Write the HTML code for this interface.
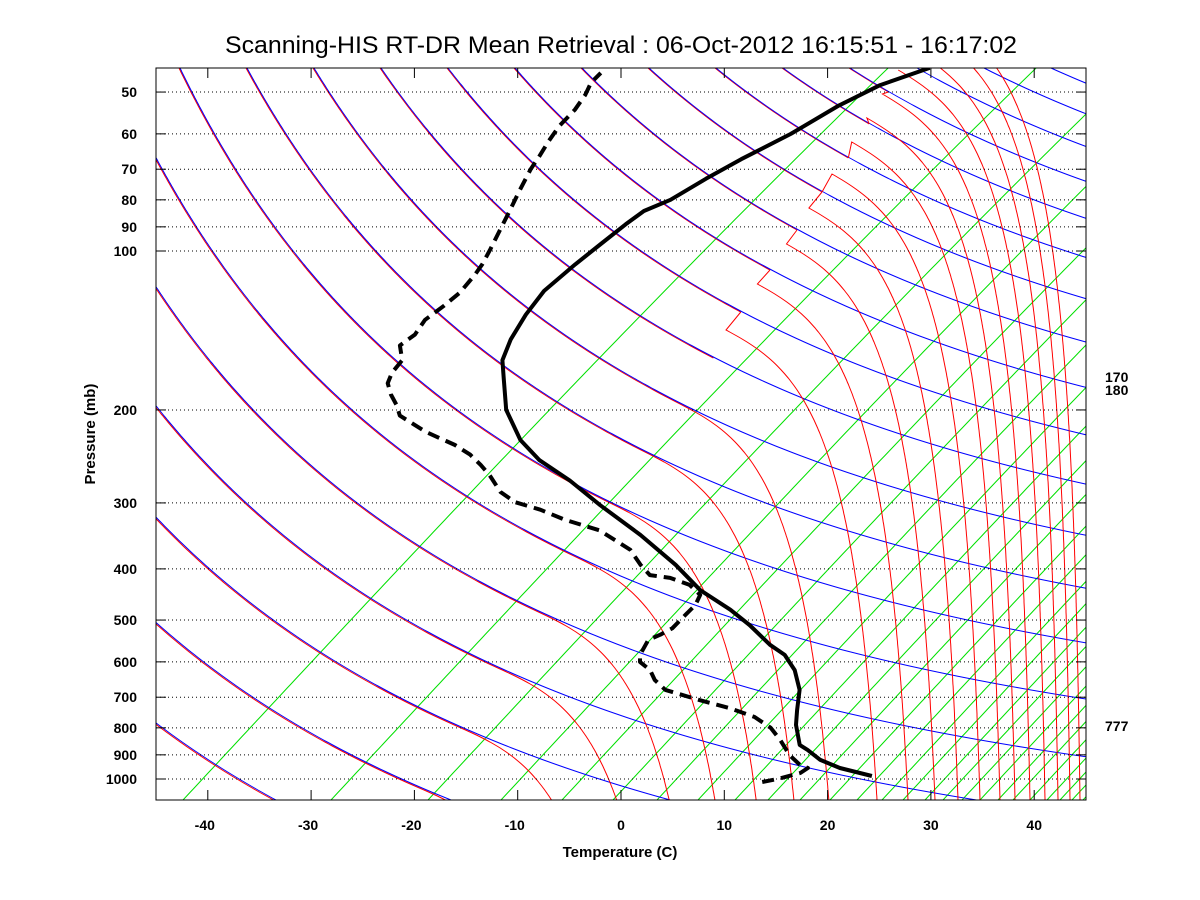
<!DOCTYPE html>
<html><head><meta charset="utf-8"><style>
html,body{margin:0;padding:0;background:#fff;}
svg{display:block;font-family:"Liberation Sans",sans-serif;}
.tk{font-size:14px;font-weight:bold;fill:#000;}
</style></head><body>
<svg id="chart" width="1200" height="900" viewBox="0 0 1200 900" xmlns="http://www.w3.org/2000/svg">
<rect x="0" y="0" width="1200" height="900" fill="#fff"/>
<text x="225" y="53" textLength="792" lengthAdjust="spacingAndGlyphs" font-size="24" fill="#000">Scanning-HIS RT-DR Mean Retrieval : 06-Oct-2012 16:15:51 - 16:17:02</text>
<text x="620" y="857" text-anchor="middle" font-size="15" font-weight="bold">Temperature (C)</text>
<text transform="translate(95,434) rotate(-90)" text-anchor="middle" font-size="15" font-weight="bold">Pressure (mb)</text>
<defs><clipPath id="pc"><rect x="156" y="68" width="930" height="732"/></clipPath></defs>
<g id="bg" clip-path="url(#pc)"></g>
<g id="grid"></g>
<g id="data" clip-path="url(#pc)"></g>
<rect x="156" y="68" width="930" height="732" fill="none" stroke="#000" stroke-width="1"/>
<g id="axes"></g>
<text class="tk" x="1105" y="382">170</text>
<text class="tk" x="1105" y="395">180</text>
<text class="tk" x="1105" y="731">777</text>
</svg>
<script>
// ---- data ----
const tempP = [987,953,920,881,862,790,740,678,622,582,557,511,478,439,393,345,303,272,249,228,200,175,161,147,132,119,106,97,89,84,80,73,67,60,53,48.5,45];
const tempT = [22.2,18.4,15.8,13.7,12.5,10.4,9.2,7.7,5.5,3.2,0.9,-2.8,-6.0,-10.6,-15.2,-21.2,-27.7,-32.8,-37.5,-41.1,-45.1,-48.0,-49.8,-50.8,-51.5,-51.8,-51.1,-50.4,-49.7,-49.1,-47.5,-45.9,-44.2,-41.6,-39.4,-37.2,-33.9];
const dewP = [1013,998,974,953,941,901,844,800,763,734,709,678,649,622,600,582,545,533,518,489,468,448,429,416,411,393,368,338,323,309,299,286,266,254,243,233,220,205,196,187,178,170,161,151,144,135,127,120,111,106,99.6,91,84,77,70,66,62,58,54,50.6,48,46];
const dewT = [12.1,13.5,15.0,15.3,14.3,12.4,10.2,8.2,5.7,2.5,-1.1,-5.3,-7.2,-8.5,-10.2,-10.8,-11.3,-10.6,-10.0,-9.9,-9.8,-10.2,-12.1,-14.6,-16.8,-18.6,-20.9,-25.6,-29.8,-33.1,-36.2,-38.5,-41.0,-42.8,-44.7,-47.0,-51.0,-54.9,-56.1,-57.6,-58.9,-59.4,-59.5,-61.0,-60.5,-60.8,-60.2,-59.8,-59.9,-60.1,-60.6,-61.4,-62.1,-62.9,-63.7,-64.0,-64.4,-64.7,-64.6,-64.9,-65.4,-65.3];
const xTicks = [-40,-30,-20,-10,0,10,20,30,40];
const yTicks = [50,60,70,80,90,100,200,300,400,500,600,700,800,900,1000];

const NS="http://www.w3.org/2000/svg";
const PL=156,PR=1086,PT=68,PB=800;
function yP(p){return 779+528*Math.log10(p/1000);}
function xT(T,y){return 621+10.33*T+0.9*(PB-y);}
function mk(tag,parent){const e=document.createElementNS(NS,tag);parent.appendChild(e);return e;}
const bg=document.getElementById('bg'), grid=document.getElementById('grid'), dataG=document.getElementById('data'), axes=document.getElementById('axes');

function sBlue(x,y){return Math.exp(0.404+0.00175*(x-PL)-0.0016*(PB-y));}
function hMoist(x,y){const d=Math.max(0,0.012*(x-PL)+0.008*(y-PT)-8.8);return 1/(1+d*d);}
function sRed(x,y){const h=hMoist(x,y);return sBlue(x,y)*h-0.1*(1-h);}
function pathDown(x,y,f){let pts=[[x,y]];for(let i=0;i<800&&y<PB+2&&x<PR+40;i++){x+=f(x,y)*2;y+=2;pts.push([x,y]);}return pts;}
function pathUp(x,y,f,stop){let pts=[[x,y]];for(let i=0;i<1500&&y>PT-2&&x>PL-40;i++){if(stop&&stop(x,y))break;x-=f(x,y)*2;y-=2;pts.push([x,y]);}return pts;}
function pl(pts,color,parent,name){const e=mk('polyline',parent);e.setAttribute('points',pts.map(p=>p[0].toFixed(1)+','+p[1].toFixed(1)).join(' '));e.setAttribute('fill','none');e.setAttribute('stroke',color);e.setAttribute('stroke-width','1');


return e;}

const greenBottom=[183,331,428,501,562,613,657,698,735,768,800,830,857,882,903,925,943,962,980,998,1013,1030,1047,1060,1072,1083];
greenBottom.forEach(xb=>{const pts=[];for(let y=PB;y>=PT;y-=4){const u=PB-y;pts.push([xb+0.93*u+0.1*u*u*u/(3*732*732),y]);}pl(pts,'#00e000',bg,'mixing-ratio-line');});
let maxBottom=0;
const cutEnds=[];
for(let k=-10;k<=13;k++){const x0=179+67*k;
 const rp=pathDown(x0,PT,sRed);
 const last=rp[rp.length-1];
 if(last[1]>=PB && last[0]<860){pl(rp,'#ff0000',bg,'moist-adiabat');maxBottom=Math.max(maxBottom,last[0]);}
 else if(last[1]<PB){pl(rp,'#ff0000',bg,'moist-adiabat');}
 else {const cut=[];for(const p of rp){if(hMoist(p[0],p[1])<0.95)break;cut.push(p);} if(cut.length>1){pl(cut,'#ff0000',bg,'moist-adiabat');cutEnds.push(cut[cut.length-1]);}}
 pl(pathDown(x0+1,PT,sBlue),'#0000ff',bg,'dry-adiabat');}
const redBottom=[310,457,575,667,740,795,840,877,908,935,958,980,1000,1015,1030,1045,1058,1070,1080];
redBottom.filter(xb=>xb>maxBottom+20).forEach(xb=>{
 const pts=pathUp(xb,PB,sRed,(x,y)=>hMoist(x,y)>0.97);
 const e=pts[pts.length-1];
 if(e[1]>PT+2){let best=null,bd=50;cutEnds.forEach(c=>{const d=Math.hypot(c[0]-e[0],c[1]-e[1]);if(d<bd){bd=d;best=c;}});if(best)pts.push(best);}
 pl(pts,'#ff0000',bg,'moist-adiabat');});

yTicks.forEach(p=>{const y=yP(p);
 const l=mk('line',grid);l.setAttribute('x1',PL);l.setAttribute('x2',PR);l.setAttribute('y1',y);l.setAttribute('y2',y);l.setAttribute('stroke','#000');l.setAttribute('stroke-width','1');l.setAttribute('stroke-dasharray','1,3');
 
 
 [[PL,PL+10],[PR-10,PR]].forEach(a=>{const t=mk('line',axes);t.setAttribute('x1',a[0]);t.setAttribute('x2',a[1]);t.setAttribute('y1',y);t.setAttribute('y2',y);t.setAttribute('stroke','#000');
 
 });
 const tx=mk('text',axes);tx.setAttribute('x',137);tx.setAttribute('y',y+5);tx.setAttribute('text-anchor','end');tx.setAttribute('class','tk');tx.textContent=p;
 
 
});
xTicks.forEach(T=>{const x=621+10.33*T;
 [[PB-10,PB],[PT,PT+10]].forEach(a=>{const t=mk('line',axes);t.setAttribute('x1',x);t.setAttribute('x2',x);t.setAttribute('y1',a[0]);t.setAttribute('y2',a[1]);t.setAttribute('stroke','#000');
 
 });
 const tx=mk('text',axes);tx.setAttribute('x',x-(T<0?3:0));tx.setAttribute('y',830);tx.setAttribute('text-anchor','middle');tx.setAttribute('class','tk');tx.textContent=T;
 
 
});

function prof(P,T,dash,name){const pts=P.map((p,i)=>{const y=yP(p);return [xT(T[i],y),y];});
 const e=pl(pts,'#000',dataG,name);e.setAttribute('stroke-width','4');e.setAttribute('stroke-linejoin','round');if(dash)e.setAttribute('stroke-dasharray','12,7');}
prof(tempP,tempT,false,'temperature-profile');
prof(dewP,dewT,true,'dewpoint-profile');
</script>
</body></html>
